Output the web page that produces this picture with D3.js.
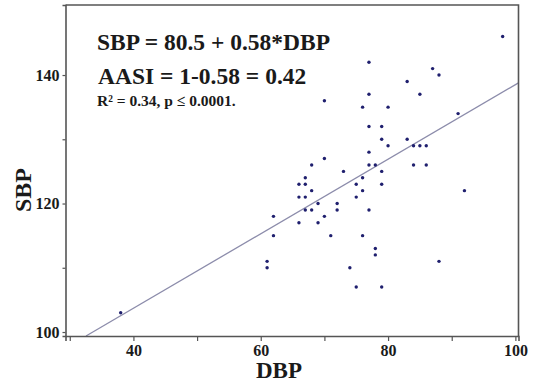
<!DOCTYPE html>
<html>
<head>
<meta charset="utf-8">
<script src="https://cdn.jsdelivr.net/npm/d3@7"></script>
<style>
  html, body { margin: 0; padding: 0; background: #fff; }
  svg { display: block; }
  text { font-family: "Liberation Serif", "Times New Roman", serif; font-weight: bold; fill: #1a1a1a; }
</style>
</head>
<body>
<svg id="chart" width="536" height="383"></svg>
<script>
// ---- data ----
const dbp = [38, 61, 61, 62, 62, 66, 66, 66, 67, 67, 67, 67, 68, 68, 68, 69, 69, 70, 70, 70,
  71, 72, 72, 73, 74, 75, 75, 75, 76, 76, 76, 76, 77, 77, 77, 77, 77, 77, 78, 78, 78,
  79, 79, 79, 79, 79, 80, 80, 83, 83, 84, 84, 85, 85, 86, 86, 87, 88, 88, 91, 92, 98];
const sbp = [103, 111, 110, 118, 115, 123, 121, 117, 124, 123, 121, 119, 126, 122, 119, 120, 117, 136, 127, 118,
  115, 120, 119, 125, 110, 123, 121, 107, 135, 124, 122, 115, 142, 137, 132, 128, 126, 119, 126, 113, 112,
  132, 130, 125, 123, 107, 135, 129, 139, 130, 129, 126, 137, 129, 129, 126, 141, 140, 111, 134, 122, 146];
const intercept = 80.5;
const slope = 0.58;
const xTicks = [30, 40, 50, 60, 70, 80, 90, 100];
const xTickLabels = ["", "40", "", "60", "", "80", "", "100"];
const yTicks = [100, 110, 120, 130, 140];
const yTickLabels = ["100", "", "120", "", "140"];
const annotations = ["SBP = 80.5 + 0.58*DBP", "AASI = 1-0.58 = 0.42", "R² = 0.34, p ≤ 0.0001."];
const xTitle = "DBP";
const yTitle = "SBP";

// ---- layout ----
const L = 65.5, R = 518.5, T = 5, B = 336;
const svg = d3.select("#chart");
const x = d3.scaleLinear().domain([29.33, 100.49]).range([L, R]);
const y = d3.scaleLinear().domain([99.38, 150.9]).range([B, T]);

// regression line (clipped to plot)
const x0 = Math.max(x.domain()[0], (y.domain()[0] - intercept) / slope);
const x1 = x.domain()[1];
svg.append("line")
  .attr("x1", x(x0)).attr("y1", y(intercept + slope * x0))
  .attr("x2", x(x1)).attr("y2", y(intercept + slope * x1))
  .attr("stroke", "#8c8cab").attr("stroke-width", 1.3);

// points
svg.append("g").selectAll("circle")
  .data(dbp.map((d, i) => [d, sbp[i]]))
  .join("circle")
  .attr("cx", d => x(d[0])).attr("cy", d => y(d[1]))
  .attr("r", 1.7).attr("fill", "#1f1f6e");

// frame (top and right)
svg.append("path")
  .attr("d", `M${L},${T}H${R}V${B}`)
  .attr("fill", "none").attr("stroke", "#555").attr("stroke-width", 1.6);

// axes
const xAxis = d3.axisBottom(x).tickValues(xTicks).tickSize(5).tickPadding(4)
  .tickFormat((d, i) => xTickLabels[i]);
const gx = svg.append("g").attr("transform", `translate(0,${B})`).call(xAxis);
const yAxis = d3.axisLeft(y).tickValues(yTicks).tickSize(3).tickPadding(3)
  .tickFormat((d, i) => yTickLabels[i]);
const gy = svg.append("g").attr("transform", `translate(${L},0)`).call(yAxis);
[gx, gy].forEach(g => {
  g.select(".domain").attr("stroke", "#555").attr("stroke-width", 1.6);
  g.selectAll(".tick line").attr("stroke", "#555").attr("stroke-width", 1.2);
  g.selectAll(".tick text").attr("font-family", "Liberation Serif, Times New Roman, serif")
    .attr("font-weight", "bold").attr("font-size", 16).attr("fill", "#1a1a1a");
});

// titles
svg.append("text").attr("x", 279).attr("y", 378).attr("text-anchor", "middle")
  .attr("font-size", 23).text(xTitle);
svg.append("text").attr("transform", "translate(31,190) rotate(-90)").attr("text-anchor", "middle")
  .attr("font-size", 24).text(yTitle);

// annotations
svg.append("text").attr("x", 97).attr("y", 50).attr("font-size", 23.5).text(annotations[0]);
svg.append("text").attr("x", 98).attr("y", 84).attr("font-size", 23.5).text(annotations[1]);
svg.append("text").attr("x", 97).attr("y", 106).attr("font-size", 15.5).text(annotations[2]);
</script>
</body>
</html>
